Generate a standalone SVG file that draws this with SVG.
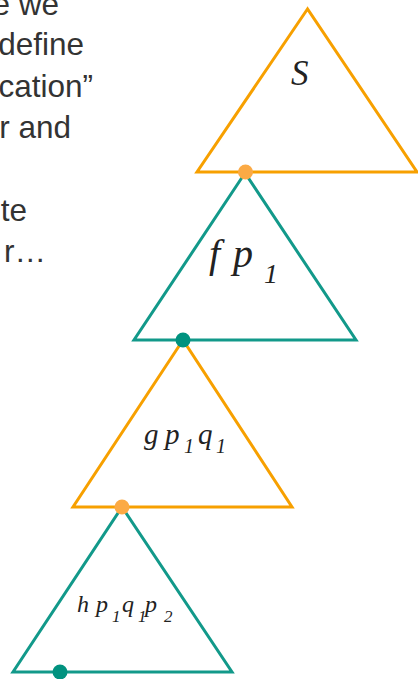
<svg xmlns="http://www.w3.org/2000/svg" width="418" height="679" viewBox="0 0 418 679">
<style>
.bg{fill:#ffffff}
.txt{font-family:"Liberation Sans",Arial,sans-serif;font-size:31.5px;fill:#333333;text-anchor:end}
.tri{fill:none;stroke-width:3;stroke-linejoin:miter}
.or{stroke:#F7A000}
.tl{stroke:#12998A}
.m{font-family:"Liberation Serif","Times New Roman",serif;font-style:italic;fill:#222222}
.dor{fill:#FBAA45}
.dtl{fill:#00927F}
</style>
<rect class="bg" x="0" y="0" width="418" height="679"/>
<g id="slide-text">
<text class="txt" x="59" y="15">e we</text>
<text class="txt" x="84" y="55">define</text>
<text class="txt" x="93" y="97">cation”</text>
<text class="txt" x="71" y="138">r and</text>
<text class="txt" x="27" y="221">te</text>
<text class="txt" x="46" y="262">r…</text>
</g>
<g id="node-s">
<polygon class="tri or" points="307.5,9 197,172 417,172"/>
<text class="m" x="291" y="85" font-size="35">S</text>
</g>
<g id="node-fp1">
<polygon class="tri tl" points="245,173 134,340 356,340"/>
<text class="m" font-size="40"><tspan x="209" y="267">f</tspan><tspan x="233" y="267">p</tspan><tspan x="264" y="283" font-size="28">1</tspan></text>
</g>
<g id="node-gp1q1">
<polygon class="tri or" points="183,340 73,507 292,507"/>
<text class="m" font-size="29"><tspan x="144" y="444">g</tspan><tspan x="165" y="444">p</tspan><tspan x="184" y="453" font-size="20">1</tspan><tspan x="198" y="444">q</tspan><tspan x="216" y="453" font-size="20">1</tspan></text>
</g>
<g id="node-hp1q1p2">
<polygon class="tri tl" points="122,507 13,672 232,672"/>
<text class="m" font-size="24"><tspan x="77" y="612">h</tspan><tspan x="96" y="612">p</tspan><tspan x="112" y="622" font-size="17">1</tspan><tspan x="122" y="612">q</tspan><tspan x="138" y="622" font-size="17">1</tspan><tspan x="145" y="612">p</tspan><tspan x="164" y="622" font-size="17">2</tspan></text>
</g>
<g id="connectors">
<circle class="dor" cx="245.5" cy="172" r="7.5"/>
<circle class="dtl" cx="183" cy="340" r="7.5"/>
<circle class="dor" cx="122" cy="507" r="7.5"/>
<circle class="dtl" cx="60" cy="672" r="7.5"/>
</g>
</svg>
